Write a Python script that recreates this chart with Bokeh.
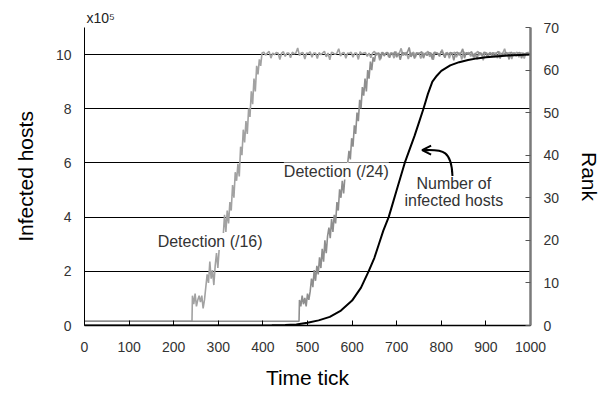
from bokeh.plotting import figure
from bokeh.models import (Range1d, LinearAxis, FixedTicker, Label, Arrow, OpenHead, Title)
from bokeh.embed import file_html
from bokeh.resources import INLINE

# ---------------- data ----------------
# Detection (/16) rank series
pre16_t = [0, 241]
pre16_rank = [1, 1]
rise16_t = list(range(242, 399, 3))
rise16_rank = [7, 5, 7.5, 4.5, 6, 7, 5.5, 7, 4, 6,
               9, 12, 10, 15, 11, 13, 9.5, 14, 17, 13.5,
               18, 19, 20, 21, 26, 22, 27, 24, 29, 27,
               33, 30, 36, 34, 38, 35, 42, 40, 46, 43,
               48, 45, 51, 49, 55, 52, 58, 55, 61, 59,
               62.5, 61, 64]
plat16_t = list(range(402, 1000, 4))
plat16_rank = [64.2, 63.5, 64, 64.4, 62.8, 64, 63.6, 64.1, 64, 62.5,
               64, 64.3, 63.2, 64, 64, 62.9, 64.2, 63.8, 64, 65.2,
               63.4, 64, 64.1, 62.6, 64, 63.9, 64.3, 63, 64, 64,
               62.7, 64.1, 63.6, 64, 64.4, 63.1, 64, 62.4, 64.2, 64,
               63.7, 64, 65.0, 63.3, 64, 64.1, 62.8, 64, 63.9, 64.2,
               63, 64, 64, 62.5, 64.3, 63.8, 64, 64.1, 63.2, 64,
               62.9, 64, 64.4, 63.5, 64, 62.3, 64.1, 64, 63.7, 64.2,
               63.1, 64, 64, 62.8, 64.3, 63.6, 64, 65.1, 63.4, 64,
               64.1, 62.6, 64, 63.9, 64.2, 63, 64, 64, 62.7, 64.1,
               63.6, 64, 64.4, 63.1, 64, 62.4, 64.2, 64, 63.7, 64,
               64.8, 63.3, 64, 64.1, 62.8, 64, 63.9, 64.2, 63, 64,
               64, 62.5, 64.3, 63.8, 64, 64.1, 63.2, 64, 62.9, 64,
               64.4, 63.5, 64, 62.3, 64.1, 64, 63.7, 64.2, 63.1, 64,
               64, 62.8, 64.3, 63.6, 64, 65.0, 63.4, 64, 64.1, 62.6,
               64, 63.9, 64.2, 63, 64, 64, 62.7, 64.1, 63.6, 64]

# Detection (/24) rank series
pre24_t = [0, 481]
pre24_rank = [1, 1]
rise24_t = list(range(482, 654, 3))
rise24_rank = [6, 4.5, 7, 5, 6.5, 4.5, 7.5, 6, 8, 11,
               9, 13, 10.5, 14, 12, 16, 13.5, 18, 15, 20,
               17, 21, 23, 20.5, 25, 22, 26, 24, 29, 27,
               32, 30, 34, 31, 35, 37, 38, 41, 39, 44,
               42, 47, 45, 50, 48, 53, 51, 56, 54, 58,
               55, 60, 58, 62, 60, 63, 62, 64]
plat24_t = list(range(656, 1000, 4))
plat24_rank = [63.8, 64, 62.6, 64.2, 63.3, 64, 64.1, 62.9, 64, 63.7,
               64.3, 63, 64, 62.4, 64.1, 64, 63.5, 64.2, 65.3, 63.1,
               64, 62.7, 64.1, 63.8, 64, 64.3, 62.8, 64, 63.4, 64.1,
               64, 62.5, 64.2, 63.9, 64, 63.2, 64.4, 64, 62.9, 64,
               63.6, 64.1, 64, 62.3, 64, 64.2, 63.5, 64, 65.0, 62.8,
               64.1, 63.7, 64, 64.3, 63, 64, 62.6, 64.1, 64, 63.4,
               64.2, 64, 62.9, 64, 63.8, 64.1, 63.1, 64, 64.4, 62.7,
               64, 63.6, 64.1, 64, 62.5, 64.2, 63.9, 64, 63.3, 64,
               64.1, 62.8, 64, 63.7, 64, 64.2]

# Number of infected hosts (x10^5)
hosts_t = [0, 380, 420, 450, 475, 500, 525, 550, 575, 600, 620, 637, 650, 660,
           670, 682, 691, 700, 709, 718, 729, 740, 750, 760, 770, 780, 790, 800,
           820, 840, 860, 880, 900, 950, 1000]
hosts_val = [0, 0, 0.005, 0.015, 0.04, 0.1, 0.19, 0.32, 0.55, 0.92, 1.4, 2.0, 2.5, 3.0,
             3.5, 4.0, 4.5, 5.0, 5.5, 6.0, 6.5, 7.0, 7.5, 8.0, 8.55, 9.0, 9.22, 9.4,
             9.6, 9.72, 9.8, 9.86, 9.9, 9.97, 10.0]

x_ticks = [0, 100, 200, 300, 400, 500, 600, 700, 800, 900, 1000]
left_ticks = [0, 2, 4, 6, 8, 10]
right_ticks = [0, 10, 20, 30, 40, 50, 60, 70]

FONT = "Liberation Sans"

p = figure(width=604, height=393, x_range=Range1d(0, 1000), y_range=Range1d(0, 11),
           output_backend="svg", toolbar_location=None,
           min_border_left=84, min_border_right=74, min_border_top=27, min_border_bottom=68)
p.extra_y_ranges = {"rank": Range1d(0, 70)}
p.outline_line_color = None
p.background_fill_color = "white"

p.add_layout(Title(text="x10\u2075", align="left", offset=2, standoff=3,
                   text_font=FONT, text_font_size="14px", text_font_style="normal",
                   text_color="#222222"), "above")

# axes
p.xaxis.ticker = FixedTicker(ticks=x_ticks)
p.xaxis.major_tick_in = 5
p.xaxis.major_tick_out = 0
p.xaxis.minor_tick_line_color = None
p.xaxis.axis_line_color = "black"
p.xaxis.axis_line_width = 1.5
p.xaxis.major_tick_line_color = "black"
p.xaxis.major_label_standoff = 16
p.xaxis.axis_label = "Time tick"
p.xaxis.axis_label_standoff = 11

p.yaxis.ticker = FixedTicker(ticks=left_ticks)
p.yaxis.major_tick_in = 0
p.yaxis.major_tick_out = 0
p.yaxis.minor_tick_line_color = None
p.yaxis.axis_line_color = "black"
p.yaxis.major_label_standoff = 13
p.yaxis.axis_label = "Infected hosts"
p.yaxis.axis_label_standoff = 16

ry = LinearAxis(y_range_name="rank", ticker=FixedTicker(ticks=right_ticks),
                axis_label="Rank")
ry.major_tick_in = 5
ry.major_tick_out = 0
ry.minor_tick_line_color = None
ry.axis_line_color = "#7a7a7a"
ry.axis_line_width = 2.5
ry.major_tick_line_color = "#555555"
ry.major_label_standoff = 13
ry.axis_label_standoff = 16
p.add_layout(ry, "right")

for ax in [p.xaxis[0], p.yaxis[0], ry]:
    ax.major_label_text_font = FONT
    ax.major_label_text_font_size = "14px"
    ax.major_label_text_color = "#333333"
    ax.axis_label_text_font = FONT
    ax.axis_label_text_font_size = "21px"
    ax.axis_label_text_font_style = "normal"
    ax.axis_label_text_color = "black"

p.xgrid.grid_line_color = None
p.ygrid.grid_line_color = "black"
p.ygrid.grid_line_width = 1
p.ygrid.grid_line_alpha = 1

# series
t16 = pre16_t + rise16_t + plat16_t
r16 = pre16_rank + rise16_rank + plat16_rank
t24 = pre24_t + rise24_t + plat24_t
r24 = pre24_rank + rise24_rank + plat24_rank

p.line(t16, r16, y_range_name="rank", line_color="#a2a2a2", line_width=1.6)
p.line(t24, r24, y_range_name="rank", line_color="#8e8e8e", line_width=1.6)
p.line(hosts_t, hosts_val, line_color="black", line_width=2)

# annotations
def lab(x, y, text, size="16px", align="left", bg=None, color="#333333"):
    l = Label(x=x, y=y, text=text, text_font=FONT, text_font_size=size,
              text_color=color, text_align=align, text_baseline="middle",
              background_fill_color=bg)
    p.add_layout(l)

lab(164, 3.1, "Detection (/16)", bg="white")
lab(447, 5.7, "Detection (/24)", bg="white")
lab(828, 5.25, "Number of", align="center")
lab(828, 4.62, "infected hosts", align="center")

p.bezier(x0=[825], y0=[5.52], x1=[762], y1=[6.47], cx0=[823], cy0=[6.45], cx1=[805], cy1=[6.5],
         line_color="black", line_width=2)
p.add_layout(Arrow(end=OpenHead(size=9, line_width=2, line_color="black"),
                   x_start=772, y_start=6.47, x_end=757, y_end=6.47,
                   line_color="black", line_width=2))

open("out.html", "w").write(file_html(p, INLINE))
